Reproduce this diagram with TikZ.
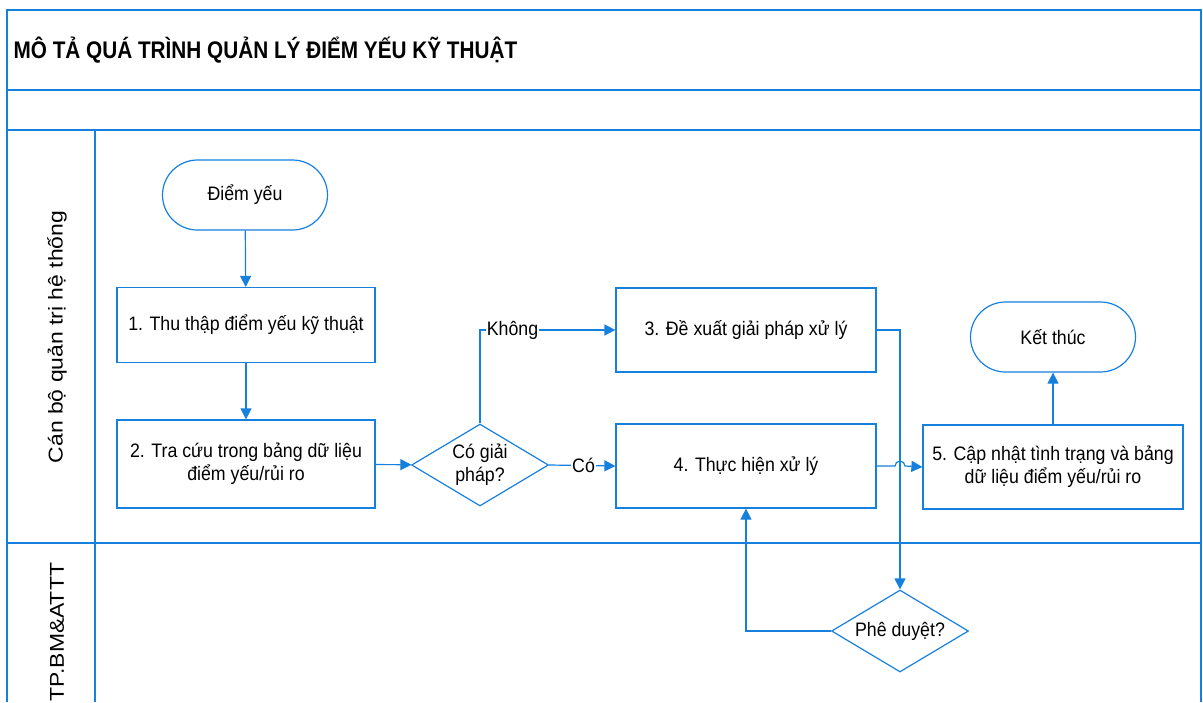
\documentclass[tikz,border=0pt]{standalone}
\usepackage{fontspec}
\setmainfont{Liberation Sans}[FakeStretch=0.91]
\usetikzlibrary{arrows.meta,shapes.geometric}
\definecolor{lineblue}{RGB}{22,128,222}

\begin{document}
\begin{tikzpicture}[x=1pt, y=1pt, line width=1.2pt, font=\fontsize{19.5}{23}\selectfont,
    main/.style = {draw=lineblue, rectangle, align=center, minimum width=260pt, minimum height=84pt, inner sep=2pt},
    term/.style = {draw=lineblue, rectangle, rounded corners=35pt, minimum width=165pt, minimum height=70pt},
    dec/.style = {draw=lineblue, diamond, aspect=1.65, inner sep=0pt, align=center, minimum width=137pt, minimum height=82pt},
    flow/.style = {draw=lineblue, -{Triangle[length=11pt,width=11pt]}},
    lane/.style = {draw=lineblue, line width=1.5pt},
    lbl/.style = {fill=white, inner sep=1pt}]
    \useasboundingbox (0,0) rectangle (1203,-702);
    % pool and lanes
    \draw[lane] (7,-702) -- (7,-10) -- (1201,-10) -- (1201,-702);
    \draw[lane] (7,-90) -- (1201,-90);
    \draw[lane] (7,-130) -- (1201,-130);
    \draw[lane] (7,-543) -- (1201,-543);
    \draw[lane] (95,-130) -- (95,-702);
    \node[anchor=west, inner sep=0pt] (title) at (13,-50) {\fontsize{24}{28}\selectfont\bfseries\scalebox{0.95}[1]{MÔ TẢ QUÁ TRÌNH QUẢN LÝ ĐIỂM YẾU KỸ THUẬT}};
    \node[rotate=90] (lane1) at (57,-337) {\fontsize{20}{24}\selectfont\scalebox{1.26}[1]{Cán bộ quản trị hệ thống}};
    \node[rotate=90] (lane2) at (57,-632) {\fontsize{20}{24}\selectfont\scalebox{1.26}[1]{TP.BM\&ATTT}};
    % steps
    \node[term] (start) at (245,-195)  {Điểm yếu};
    \node[main, minimum width=258pt, minimum height=75pt] (1) at (246,-325) {1. Thu thập điểm yếu kỹ thuật};
    \node[main, minimum width=258pt, minimum height=88pt] (2) at (246,-464) {2. Tra cứu trong bảng dữ liệu\\điểm yếu/rủi ro};
    \node[dec] (q1) at (480,-465) {Có giải\\pháp?};
    \node[main] (3) at (746,-330) {3. Đề xuất giải pháp xử lý};
    \node[main] (4) at (746,-466) {4. Thực hiện xử lý};
    \node[main] (5) at (1053,-467) {5. Cập nhật tình trạng và bảng\\dữ liệu điểm yếu/rủi ro};
    \node[term] (end) at (1053,-337) {Kết thúc};
    \node[dec] (q2) at (900,-631) {Phê duyệt?};
    \coordinate (jump) at (895,-466);
    % connectors
    \draw[flow] (start) -- (1);
    \draw[flow] (1) -- (2);
    \draw[flow] (2) -- (q1);
    \draw[flow] (q1.north) |- node[lbl, pos=0.62] {Không} (3.west);
    \draw[flow] (q1.east) -- node[lbl, pos=0.52] {Có} (4.west);
    \draw[flow] (3.east) -| (q2.north);
    \draw[flow] (4.east) -- (jump) arc[start angle=180, end angle=0, radius=5pt] -- (5.west);
    \draw[flow] (q2.west) -| (4.south);
    \draw[flow] (5) -- (end);
\end{tikzpicture}
\end{document}
